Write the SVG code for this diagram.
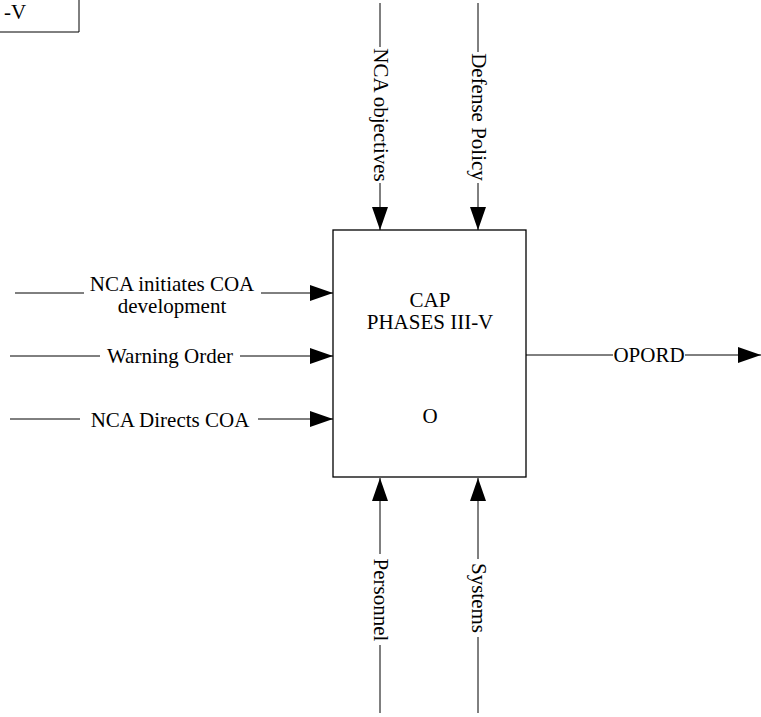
<svg xmlns="http://www.w3.org/2000/svg" width="761" height="717" viewBox="0 0 761 717">
<style>
  .ln{stroke:#000;stroke-width:1;fill:none}
  .box{stroke:#000;stroke-width:1.3;fill:#fff}
  .t{font-family:"Liberation Serif","Times New Roman",serif;font-size:21px;fill:#000}
  .c{text-anchor:middle}
</style>
<defs>
  <marker id="ah" markerUnits="userSpaceOnUse" markerWidth="24" markerHeight="18" refX="23" refY="8" orient="auto">
    <path d="M0,0 L23,8 L0,16 Z" fill="#000"/>
  </marker>
</defs>
<rect width="761" height="717" fill="#fff"/>

<g id="node-prev">
  <path class="ln" d="M0,32 H79 V0"/>
  <text class="t" x="4" y="19">-V</text>
</g>

<g id="node-cap">
  <rect class="box" x="333" y="230" width="193" height="247"/>
  <text class="t c" x="430" y="307">CAP</text>
  <text class="t c" x="430" y="329">PHASES III-V</text>
  <text class="t c" x="430" y="423">O</text>
</g>

<g id="connectors">
  <!-- controls from top -->
  <path class="ln" d="M380,3 V47"/>
  <path class="ln" d="M380,183 V230" marker-end="url(#ah)"/>
  <text class="t c" transform="translate(374,115) rotate(90)">NCA objectives</text>
  <path class="ln" d="M478,3 V52"/>
  <path class="ln" d="M478,183 V230" marker-end="url(#ah)"/>
  <text class="t c" transform="translate(472,117) rotate(90)">Defense Policy</text>

  <!-- mechanisms from bottom -->
  <path class="ln" d="M380,713 V645"/>
  <path class="ln" d="M380,554 V478" marker-end="url(#ah)"/>
  <text class="t c" transform="translate(374,600) rotate(90)">Personnel</text>
  <path class="ln" d="M478,713 V637"/>
  <path class="ln" d="M478,559 V478" marker-end="url(#ah)"/>
  <text class="t c" transform="translate(472,598) rotate(90)">Systems</text>

  <!-- inputs -->
  <path class="ln" d="M15,293 H84"/>
  <path class="ln" d="M261,293 H333" marker-end="url(#ah)"/>
  <text class="t c" x="172" y="291">NCA initiates COA</text>
  <text class="t c" x="172" y="313">development</text>

  <path class="ln" d="M10,356 H100"/>
  <path class="ln" d="M240,356 H333" marker-end="url(#ah)"/>
  <text class="t c" x="170" y="363">Warning Order</text>

  <path class="ln" d="M10,419 H80"/>
  <path class="ln" d="M258,419 H333" marker-end="url(#ah)"/>
  <text class="t c" x="170" y="427">NCA Directs COA</text>

  <!-- output -->
  <path class="ln" d="M526,355 H613"/>
  <path class="ln" d="M685,355 H761" marker-end="url(#ah)"/>
  <text class="t c" x="649" y="362">OPORD</text>
</g>
</svg>
